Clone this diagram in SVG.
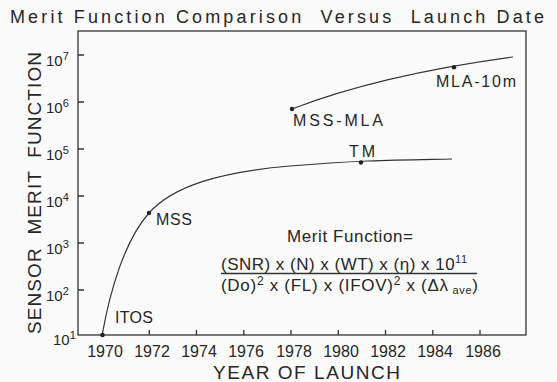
<svg xmlns="http://www.w3.org/2000/svg" width="557" height="382" viewBox="0 0 557 382">
<style>
text{font-family:"Liberation Sans",Arial,sans-serif;fill:#262626}
.ax{fill:none;stroke:#333;stroke-width:1.3}
.cv{fill:none;stroke:#333;stroke-width:1.2}
.dot{fill:#222}
.yt{font-size:15px}
.sup{font-size:11px}
.xt{font-size:16px;text-anchor:middle}
.lbl{font-size:16px}
.fm{font-size:17px}
</style>
<rect width="557" height="382" fill="#fbfbfb"/>
<text x="10" y="23" font-size="18" textLength="534" lengthAdjust="spacing" xml:space="preserve">Merit Function Comparison  Versus  Launch Date</text>
<g id="axes">
<rect class="ax" x="78" y="31" width="448" height="304"/>
<path class="ax" d="M78,55h6M78,102h6M78,149h6M78,196h6M78,243h6M78,290h6"/>
<path class="ax" d="M149.3,335v-5M196.5,335v-5M243.8,335v-5M291,335v-5M338.3,335v-5M385.5,335v-5M432.8,335v-5M480,335v-5"/>
</g>
<g id="y-ticks">
<text class="yt" x="46" y="66">10<tspan class="sup" dy="-6">7</tspan></text>
<text class="yt" x="46" y="113">10<tspan class="sup" dy="-6">6</tspan></text>
<text class="yt" x="46" y="160">10<tspan class="sup" dy="-6">5</tspan></text>
<text class="yt" x="46" y="207">10<tspan class="sup" dy="-6">4</tspan></text>
<text class="yt" x="46" y="254">10<tspan class="sup" dy="-6">3</tspan></text>
<text class="yt" x="46" y="301">10<tspan class="sup" dy="-6">2</tspan></text>
<text class="yt" x="53" y="345">10<tspan class="sup" dy="-6">1</tspan></text>
</g>
<g id="x-ticks">
<text class="xt" x="105" y="357">1970</text>
<text class="xt" x="152" y="357">1972</text>
<text class="xt" x="199" y="357">1974</text>
<text class="xt" x="246" y="357">1976</text>
<text class="xt" x="294" y="357">1978</text>
<text class="xt" x="341" y="357">1980</text>
<text class="xt" x="388" y="357">1982</text>
<text class="xt" x="435" y="357">1984</text>
<text class="xt" x="483" y="357">1986</text>
</g>
<text x="213" y="379" font-size="19" textLength="187" lengthAdjust="spacing">YEAR OF LAUNCH</text>
<text transform="translate(41,334) rotate(-90)" font-size="19" textLength="282" lengthAdjust="spacing" xml:space="preserve">SENSOR  MERIT  FUNCTION</text>
<g id="connectors">
<path class="cv" d="M102,336 C110,290 125,240 149,213 S220,172 290,166 S400,160 452,159"/>
<path class="cv" d="M292,109 Q380,75 513,57"/>
</g>
<g id="ITOS"><circle class="dot" cx="102.5" cy="335" r="2.3"/><text class="lbl" x="115" y="323" textLength="38" lengthAdjust="spacing">ITOS</text></g>
<g id="MSS"><circle class="dot" cx="149" cy="213" r="2.2"/><text class="lbl" x="156" y="225" textLength="36" lengthAdjust="spacing">MSS</text></g>
<g id="TM"><circle class="dot" cx="361" cy="162.5" r="2.2"/><text class="lbl" x="349" y="157" textLength="26" lengthAdjust="spacing">TM</text></g>
<g id="MSS-MLA"><circle class="dot" cx="292" cy="109" r="2.2"/><text class="lbl" x="293" y="126" textLength="90" lengthAdjust="spacing">MSS-MLA</text></g>
<g id="MLA-10m"><circle class="dot" cx="454" cy="67.3" r="2.2"/><text class="lbl" x="436" y="86.5" textLength="80" lengthAdjust="spacing">MLA-10m</text></g>
<g id="formula">
<text class="fm" x="287" y="242" font-size="16" textLength="126" lengthAdjust="spacing">Merit Function=</text>
<text class="fm" x="221" y="270" textLength="246" lengthAdjust="spacing">(SNR) x (N) x (WT) x (η) x 10<tspan class="sup" font-size="11" dy="-7">11</tspan></text>
<path class="ax" d="M221,273.5H477" stroke-width="1.2"/>
<text class="fm" x="221" y="291" textLength="257" lengthAdjust="spacing">(Do)<tspan font-size="12" dy="-6">2</tspan><tspan dy="6"> x (FL) x (IFOV)</tspan><tspan font-size="12" dy="-6">2</tspan><tspan dy="6"> x (Δλ</tspan><tspan font-size="11" dy="3"> ave</tspan><tspan dy="-3">)</tspan></text>
</g>
</svg>
